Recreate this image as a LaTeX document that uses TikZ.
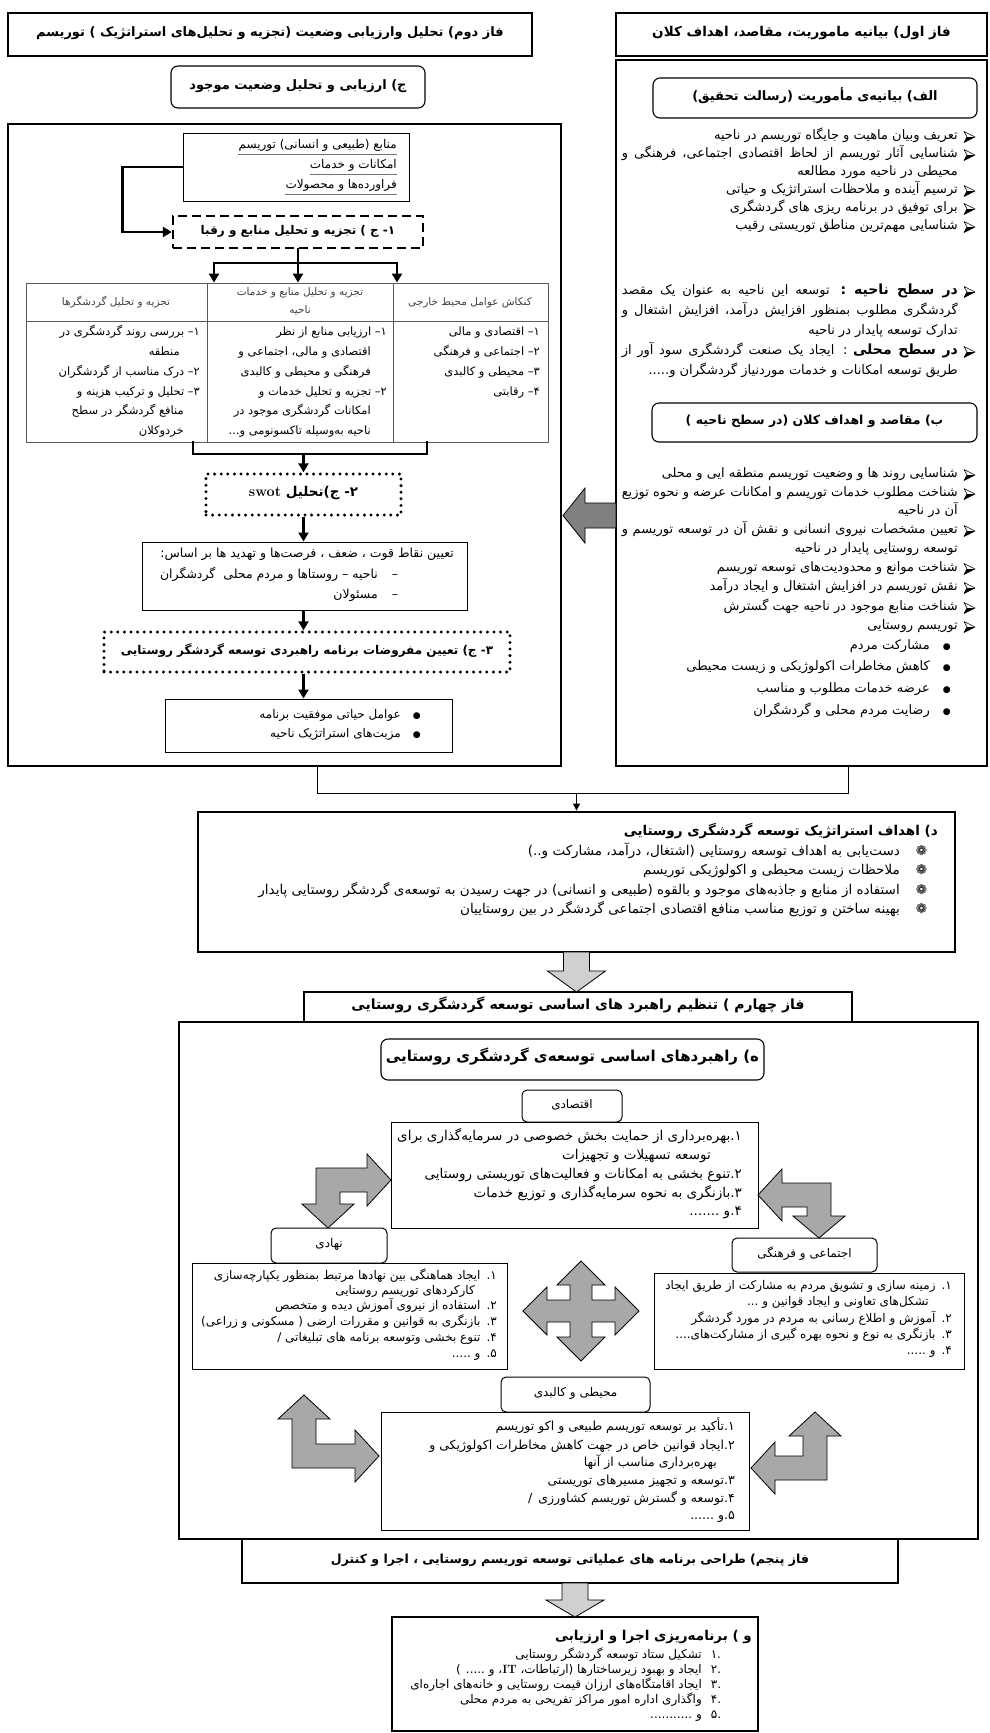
\documentclass[tikz,border=0pt]{standalone}
\usepackage{fontspec}
\usetikzlibrary{arrows.meta,fit,calc}
\TeXXeTstate=1
\newfontfamily\arabicfont[Script=Arabic]{DejaVu Sans}
\newfontfamily\symf{DejaVu Sans}
\newcommand\fa[1]{{\arabicfont\beginR #1\endR}}
\newcommand\fz[2]{\fontsize{#1}{#2}\selectfont}
\newcommand\arrb{\hspace*{19pt}}
\newcommand\jl[1]{\hbox to 355pt{\beginR #1\endR}}
\newcommand\tx[4][]{\node[txt,#1] (#2) at (#3) {\fa{#4}};}
\newcommand\arhd[1]{%
  \coordinate (tmp) at ([xshift=-2pt]#1.mid east);
  \filldraw[fill=white, line width=0.6pt, line join=round] (tmp) -- ++(-11,-5.5) -- ++(3,5.5) -- ++(-3,5.5) -- cycle;
  \fill (tmp) -- ++(-8,0) -- ++(-3,5.5) -- cycle;}
\definecolor{gdark}{HTML}{808080}
\definecolor{glight}{HTML}{D0D0D0}
\definecolor{gmid}{HTML}{A8A8A8}
\begin{document}
\begin{tikzpicture}[x=1pt,y=-1pt,
  thickbox/.style={draw, line width=2.8pt, inner sep=0pt},
  thinbox/.style={draw, line width=1pt, inner sep=0pt},
  rbox/.style={draw, line width=1.1pt, rounded corners=7pt, inner sep=0pt},
  lbl/.style={draw, line width=1pt, rounded corners=5pt, inner sep=0pt},
  dashbox/.style={draw, line width=2.4pt, dash pattern=on 9pt off 5pt, inner sep=0pt},
  dotbox/.style={draw, line width=3.3pt, dash pattern=on 0pt off 6.6pt, line cap=round, inner sep=0pt},
  tbl/.style={draw=black!65, line width=0.9pt, inner sep=0pt},
  txt/.style={inner sep=0pt, anchor=mid east, font=\fz{13}{15}},
  ctr/.style={inner sep=0pt, anchor=mid},
  conn/.style={line width=2.4pt, -{Triangle[length=9pt,width=10pt]}},
  tconn/.style={line width=1pt, -{Triangle[length=7pt,width=7pt]}},
  bline/.style={line width=2.4pt, line cap=rect},
  garrow/.style={draw=black, line width=0.8pt, line join=miter},
]
\useasboundingbox (0,0) rectangle (989,1733);

% ---------- headers ----------
\node[thickbox, fit={(8,13) (532,56)}] (h2) {};
\node[ctr, font=\fz{13}{15}] (h2t) at (h2.center) {\fa{\bfseries فاز دوم) تحلیل وارزیابی وضعیت (تجزیه و تحلیل‌های استراتژیک ) توریسم}};
\node[thickbox, fit={(616,13) (987,56)}] (h1) {};
\node[ctr, font=\fz{13.5}{15}] (h1t) at (h1.center) {\fa{\bfseries فاز اول) بیانیه ماموریت، مقاصد، اهداف کلان}};
\node[rbox, fit={(171,66) (425,108)}] (jb) {};
\node[ctr, font=\fz{13}{15}] (jbt) at (jb.center) {\fa{\bfseries ج) ارزیابی و تحلیل وضعیت موجود}};

% ---------- big boxes ----------
\node[thickbox, fit={(8,124) (561,766)}] (Lbig) {};
\node[thickbox, fit={(616,60) (987,766)}] (Rbig) {};

% ---------- right column ----------
\node[rbox, fit={(653,78) (977,118)}] (alef) {};
\node[ctr, font=\fz{13}{15}] (aleft) at (alef.center) {\fa{\bfseries الف) بیانیه‌ی مأموریت (رسالت  تحقیق)}};
\tx{r1}{977,137}{\arrb تعریف وبیان ماهیت و جایگاه توریسم در ناحیه}
\tx{r2}{977,155}{\jl{\arrb شناسایی آثار توریسم از لحاظ اقتصادی اجتماعی، فرهنگی و}}
\tx{r3}{977,173}{\arrb محیطی در ناحیه مورد مطالعه}
\tx{r4}{977,191}{\arrb ترسیم آینده و ملاحظات استراتژیک و حیاتی}
\tx{r5}{977,209}{\arrb برای توفیق در برنامه ریزی های گردشگری}
\tx{r6}{977,227}{\arrb شناسایی مهم‌ترین مناطق توریستی رقیب}
\tx{r7}{977,292}{\jl{\arrb {\fz{14}{16}\bfseries در سطح ناحیه :} توسعه این ناحیه به عنوان یک مقصد}}
\tx{r8}{977,312}{\jl{\arrb گردشگری مطلوب بمنظور افزایش درآمد، افزایش اشتغال و}}
\tx{r9}{977,332}{\arrb تدارک توسعه پایدار در ناحیه}
\tx{r10}{977,352}{\jl{\arrb {\fz{14}{16}\bfseries در سطح محلی} : ایجاد یک صنعت گردشگری سود آور از}}
\tx{r11}{977,372}{\arrb طریق توسعه امکانات و خدمات موردنیاز گردشگران و.....}
\node[rbox, fit={(652,403) (977,442)}] (beh) {};
\node[ctr, font=\fz{12.5}{15}] (beht) at (beh.center) {\fa{\bfseries ب) مقاصد و اهداف کلان (در سطح ناحیه )}};
\tx{q1}{977,475}{\arrb شناسایی روند ها و وضعیت توریسم منطقه ایی و محلی}
\tx{q2}{977,494}{\jl{\arrb شناخت مطلوب خدمات توریسم و امکانات عرضه و نحوه توزیع}}
\tx{q3}{977,512}{\arrb آن در ناحیه}
\tx{q4}{977,531}{\jl{\arrb تعیین مشخصات نیروی انسانی و نقش آن در توسعه توریسم و}}
\tx{q5}{977,550}{\arrb توسعه روستایی پایدار در ناحیه}
\tx{q6}{977,569}{\arrb شناخت موانع و محدودیت‌های توسعه توریسم}
\tx{q7}{977,588}{\arrb نقش توریسم در افزایش اشتغال و ایجاد درآمد}
\tx{q8}{977,608}{\arrb شناخت منابع موجود در ناحیه جهت گسترش}
\tx{q9}{977,627}{\arrb توریسم روستایی}
\foreach \n in {r1,r2,r4,r5,r6,r7,r10,q1,q2,q4,q6,q7,q8,q9} {\arhd{\n}}
\tx{s1}{964,647}{\makebox[34pt][c]{\fz{9}{9}●}مشارکت مردم}
\tx{s2}{964,668}{\makebox[34pt][c]{\fz{9}{9}●}کاهش مخاطرات اکولوژیکی و زیست محیطی}
\tx{s3}{964,690}{\makebox[34pt][c]{\fz{9}{9}●}عرضه خدمات مطلوب و مناسب}
\tx{s4}{964,712}{\makebox[34pt][c]{\fz{9}{9}●}رضایت مردم محلی و گردشگران}

% ---------- left column ----------
\node[thinbox, fit={(183,133) (409,201)}] (res) {};
\tx[font=\fz{12}{14}]{u1}{397,146}{منابع (طبیعی و انسانی) توریسم}
\tx[font=\fz{12}{14}]{u2}{397,166}{امکانات و خدمات}
\tx[font=\fz{12}{14}]{u3}{397,186}{فراورده‌ها و محصولات}
\foreach \n in {u1,u2,u3} \draw[black!55, line width=0.7pt] ([yshift=-6pt]\n.base west) -- ([yshift=-6pt]\n.base east);
\node[dashbox, fit={(173,216) (423,248)}] (dsh) {};
\node[ctr, font=\fz{12}{14}] (dsht) at (dsh.center) {\fa{\bfseries ۱- ج ) تجزیه و تحلیل منابع و رقبا}};

\node[tbl, fit={(26,283) (548,442)}] (tab) {};
\draw[black!65, line width=0.9pt] (26,321) -- (548,321) (207,283) -- (207,442) (393,283) -- (393,442);
\node[ctr, font=\fz{10.5}{12}, text=black!75] (th1) at (470,303) {\fa{کنکاش عوامل محیط خارجی}};
\node[ctr, font=\fz{10.5}{12}, text=black!75] (th2) at (300,293) {\fa{تجزیه و تحلیل منابع و خدمات}};
\node[ctr, font=\fz{10.5}{12}, text=black!75] (th2b) at (300,311) {\fa{ناحیه}};
\node[ctr, font=\fz{10.5}{12}, text=black!75] (th3) at (116,303) {\fa{تجزیه و تحلیل گردشگرها}};
\tx[font=\fz{11.5}{13}]{ta1}{540,333}{۱– اقتصادی و مالی}
\tx[font=\fz{11.5}{13}]{ta2}{540,353}{۲– اجتماعی و فرهنگی}
\tx[font=\fz{11.5}{13}]{ta3}{540,373}{۳– محیطی و کالبدی}
\tx[font=\fz{11.5}{13}]{ta4}{540,393}{۴– رقابتی}
\tx[font=\fz{11.5}{13}]{tb1}{387,333}{۱– ارزیابی منابع از نظر}
\tx[font=\fz{11.5}{13}]{tb2}{371,353}{اقتصادی و مالی، اجتماعی و}
\tx[font=\fz{11.5}{13}]{tb3}{371,373}{فرهنگی و محیطی و کالبدی}
\tx[font=\fz{11.5}{13}]{tb4}{387,393}{۲– تجزیه و تحلیل خدمات و}
\tx[font=\fz{11.5}{13}]{tb5}{371,412}{امکانات گردشگری موجود در}
\tx[font=\fz{11.5}{13}]{tb6}{371,432}{ناحیه به‌وسیله تاکسونومی و...}
\tx[font=\fz{11.5}{13}]{tc1}{200,333}{۱– بررسی روند گردشگری در}
\tx[font=\fz{11.5}{13}]{tc2}{180,353}{منطقه}
\tx[font=\fz{11.5}{13}]{tc3}{200,373}{۲– درک مناسب از گردشگران}
\tx[font=\fz{11.5}{13}]{tc4}{200,393}{۳– تحلیل و ترکیب هزینه و}
\tx[font=\fz{11.5}{13}]{tc5}{184,412}{منافع گردشگر در سطح}
\tx[font=\fz{11.5}{13}]{tc6}{184,432}{خردوکلان}

\node[dotbox, fit={(206,474) (401,515)}] (swot) {};
\node[ctr, font=\fz{13.5}{15}] (swott) at (swot.center) {\fa{\bfseries ۲- ج)تحلیل {\normalfont\bfseries\fz{14.5}{16}swot}}};
\node[thinbox, fit={(142,542) (467,610)}] (res2) {};
\tx[font=\fz{12.5}{14}]{w1}{454,555}{تعیین نقاط قوت ، ضعف ، فرصت‌ها و تهدید ها بر اساس:}
\tx[font=\fz{12.5}{14}]{w2}{402,576}{\makebox[10pt][r]{–}\hspace{14pt}ناحیه – روستاها و مردم محلی\hspace{8pt}گردشگران}
\tx[font=\fz{12.5}{14}]{w3}{402,596}{\makebox[10pt][r]{–}\hspace{14pt}مسئولان}
\node[dotbox, fit={(104,632) (510,672)}] (dot3) {};
\node[ctr, font=\fz{12}{14}] (dot3t) at (dot3.center) {\fa{\bfseries ۳- ج) تعیین مفروضات برنامه راهبردی توسعه گردشگر روستایی}};
\node[thinbox, fit={(165,699) (452,752)}] (fin) {};
\tx[font=\fz{12}{14}]{f1}{425,716}{\makebox[12pt][r]{\fz{9}{9}●}\hspace{12pt}عوامل حیاتی موفقیت برنامه}
\tx[font=\fz{12}{14}]{f2}{425,735}{\makebox[12pt][r]{\fz{9}{9}●}\hspace{12pt}مزیت‌های استراتژیک ناحیه}

% ---------- strategic goals box ----------
\node[thickbox, fit={(198,812) (955,952)}] (dbox) {};
\tx[font=\fz{13.5}{15}]{d0}{938,833}{\bfseries د) اهداف استراتژیک توسعه گردشگری روستایی}
\tx[font=\fz{13.5}{15}]{d1}{936,853}{\makebox[20pt][r]{\symf ❁}\hspace{16pt}دست‌یابی به اهداف توسعه روستایی (اشتغال، درآمد، مشارکت و..)}
\tx[font=\fz{13.5}{15}]{d2}{936,872}{\makebox[20pt][r]{\symf ❁}\hspace{16pt}ملاحظات زیست محیطی و اکولوژیکی توریسم}
\tx[font=\fz{13.5}{15}]{d3}{936,892}{\makebox[20pt][r]{\symf ❁}\hspace{16pt}استفاده از منابع و جاذبه‌های موجود و بالقوه (طبیعی و انسانی) در جهت رسیدن به توسعه‌ی گردشگر روستایی پایدار}
\tx[font=\fz{13.5}{15}]{d4}{936,911}{\makebox[20pt][r]{\symf ❁}\hspace{16pt}بهینه ساختن و توزیع مناسب منافع اقتصادی اجتماعی گردشگر در بین روستاییان}

% ---------- phase 4 ----------
\node[thickbox, fit={(179,1022) (978,1539)}] (p4big) {};
\node[thickbox, fit={(304,992) (852,1022)}] (p4) {};
\node[ctr, font=\fz{14}{16}] (p4t) at (p4.center) {\fa{\bfseries فاز چهارم ) تنظیم راهبرد های اساسی توسعه گردشگری روستایی}};
\node[rbox, fit={(381,1039) (764,1080)}] (heh) {};
\node[ctr, font=\fz{15}{17}] (heht) at (heh.center) {\fa{\bfseries ه) راهبردهای اساسی توسعه‌ی گردشگری روستایی}};

\node[lbl, fit={(522,1090) (622,1122)}] (eco) {};
\node[ctr, font=\fz{12}{14}] (ecot) at (eco.center) {\fa{اقتصادی}};
\node[thinbox, fit={(391,1122) (758,1228)}] (ecob) {};
\tx[font=\fz{13.5}{15}]{e1}{742,1138}{۱.بهره‌برداری از حمایت بخش خصوصی در سرمایه‌گذاری برای}
\tx[font=\fz{13.5}{15}]{e2}{711,1157}{توسعه تسهیلات و تجهیزات}
\tx[font=\fz{13.5}{15}]{e3}{742,1176}{۲.تنوع بخشی به امکانات و فعالیت‌های توریستی روستایی}
\tx[font=\fz{13.5}{15}]{e4}{742,1195}{۳.بازنگری به نحوه سرمایه‌گذاری و توزیع خدمات}
\tx[font=\fz{13.5}{15}]{e5}{742,1213}{۴.و .......}

\node[lbl, fit={(271,1228) (387,1263)}] (nah) {};
\node[ctr, font=\fz{12}{14}] (naht) at (nah.center) {\fa{نهادی}};
\node[thinbox, fit={(192,1263) (507,1369)}] (nahb) {};
\tx[font=\fz{12}{14}]{n1}{497,1277}{۱.\hspace{6pt}ایجاد هماهنگی بین نهادها مرتبط بمنظور یکپارچه‌سازی}
\tx[font=\fz{12}{14}]{n2}{475,1292}{کارکردهای توریسم روستایی}
\tx[font=\fz{12}{14}]{n3}{497,1307}{۲.\hspace{6pt}استفاده از نیروی آموزش دیده و متخصص}
\tx[font=\fz{12}{14}]{n4}{497,1323}{۳.\hspace{6pt}بازنگری به قوانین و مقررات ارضی ( مسکونی و زراعی)}
\tx[font=\fz{12}{14}]{n5}{497,1339}{۴.\hspace{6pt}تنوع بخشی وتوسعه برنامه های تبلیغاتی /}
\tx[font=\fz{12}{14}]{n6}{497,1355}{۵.\hspace{6pt}و .....}

\node[lbl, fit={(732,1238) (877,1272)}] (soc) {};
\node[ctr, font=\fz{12}{14}] (soct) at (soc.center) {\fa{اجتماعی و فرهنگی}};
\node[thinbox, fit={(654,1273) (964,1369)}] (socb) {};
\tx[font=\fz{12}{14}]{c1}{952,1287}{۱.\hspace{6pt}زمینه سازی و تشویق مردم به مشارکت از طریق ایجاد}
\tx[font=\fz{12}{14}]{c2}{929,1303}{تشکل‌های تعاونی و ایجاد قوانین و ...}
\tx[font=\fz{12}{14}]{c3}{952,1320}{۲.\hspace{6pt}آموزش و اطلاع رسانی به مردم در مورد گردشگر}
\tx[font=\fz{12}{14}]{c4}{952,1336}{۳.\hspace{6pt}بازنگری به نوع و نحوه بهره گیری از مشارکت‌های....}
\tx[font=\fz{12}{14}]{c5}{952,1352}{۴.\hspace{6pt}و .....}

\node[lbl, fit={(501,1377) (650,1412)}] (env) {};
\node[ctr, font=\fz{12}{14}] (envt) at (env.center) {\fa{محیطی و کالبدی}};
\node[thinbox, fit={(381,1412) (749,1530)}] (envb) {};
\tx[font=\fz{12.5}{14}]{v1}{735,1428}{۱.تأکید بر توسعه توریسم طبیعی و اکو توریسم}
\tx[font=\fz{12.5}{14}]{v2}{735,1447}{۲.ایجاد قوانین خاص در جهت کاهش مخاطرات اکولوژیکی و}
\tx[font=\fz{12.5}{14}]{v3}{717,1464}{بهره‌برداری مناسب از آنها}
\tx[font=\fz{12.5}{14}]{v4}{735,1482}{۳.توسعه و تجهیز مسیرهای توریستی}
\tx[font=\fz{12.5}{14}]{v5}{735,1500}{۴.توسعه و گسترش توریسم کشاورزی\hspace{6pt}/}
\tx[font=\fz{12.5}{14}]{v6}{735,1517}{۵.و ......}

% ---------- phase 5 and last box ----------
\node[thickbox, fit={(242,1539) (898,1583)}] (p5) {};
\node[ctr, font=\fz{12.5}{15}] (p5t) at (p5.center) {\fa{\bfseries فاز پنجم) طراحی برنامه های عملیاتی توسعه توریسم روستایی ، اجرا و کنترل}};
\node[thickbox, fit={(392,1617) (758,1731)}] (wbox) {};
\tx[font=\fz{13.5}{15}]{z0}{752,1638}{\bfseries و ) برنامه‌ریزی  اجرا و ارزیابی}
\tx[font=\fz{12}{13}]{z1}{721,1656}{\makebox[10pt][r]{.۱}\hspace{9pt}تشکیل ستاد توسعه گردشگر روستایی}
\tx[font=\fz{12}{13}]{z2}{721,1671}{\makebox[10pt][r]{.۲}\hspace{9pt}ایجاد و بهبود زیرساختارها (ارتباطات، {\normalfont\bfseries IT}، و ..... )}
\tx[font=\fz{12}{13}]{z3}{721,1686}{\makebox[10pt][r]{.۳}\hspace{9pt}ایجاد اقامتگاه‌های ارزان قیمت روستایی و خانه‌های اجاره‌ای}
\tx[font=\fz{12}{13}]{z4}{721,1701}{\makebox[10pt][r]{.۴}\hspace{9pt}واگذاری اداره امور مراکز تفریحی به مردم محلی}
\tx[font=\fz{12}{13}]{z5}{721,1716}{\makebox[10pt][r]{.۵}\hspace{9pt}و ...........}

% ---------- connectors ----------
\draw[conn] (res.west) -- ++(-60,0) |- (dsh.west);
\coordinate (spl) at (214,263);
\coordinate (spr) at (397,263);
\draw[bline] (dsh.south) -- (dsh.south |- spl);
\draw[bline] (spl) -- (spr);
\draw[conn] (spl) -- (spl |- tab.north);
\draw[conn] (dsh.south |- spl) -- (dsh.south |- tab.north);
\draw[conn] (spr) -- (spr |- tab.north);
\coordinate (ml) at (193,454);
\coordinate (mr) at (427,454);
\draw[bline] (ml |- tab.south) -- (ml) -- (mr) -- (mr |- tab.south);
\draw[conn] (swot.north |- ml) -- (swot.north);
\draw[conn] (swot.south) -- (swot.south |- res2.north);
\draw[conn] (swot.south |- res2.south) -- (swot.south |- dot3.north);
\draw[conn] (swot.south |- dot3.south) -- (swot.south |- fin.north);
\coordinate (jl) at (317,793);
\coordinate (jr) at (848,793);
\draw[line width=1pt] (jl |- Lbig.south) -- (jl) -- (jr) -- (jr |- Rbig.south);
\draw[tconn] (dbox.north |- jl) -- (dbox.north);

% ---------- grey block arrows ----------
\filldraw[garrow, fill=gdark] (616,503) -- (585,503) -- (585,488) -- (563,515.5) -- (585,543) -- (585,528) -- (616,528) -- cycle;
\filldraw[garrow, fill=glight] (563.5,952) -- (563.5,971) -- (547.5,971) -- (576.5,992) -- (605.5,971) -- (589.5,971) -- (589.5,952) -- cycle;
\filldraw[garrow, fill=glight] (562,1583) -- (562,1600) -- (546,1600) -- (575,1617) -- (604,1600) -- (588,1600) -- (588,1583) -- cycle;
\filldraw[garrow, fill=gmid] (391,1180) -- (367,1206) -- (367,1192) -- (340,1192) -- (340,1204) -- (354,1204) -- (328,1228) -- (302,1204) -- (316,1204) -- (316,1168) -- (367,1168) -- (367,1154) -- cycle;
\filldraw[garrow, fill=gmid] (758,1195) -- (782,1169) -- (782,1183) -- (831,1183) -- (831,1216) -- (845,1216) -- (819,1238) -- (793,1216) -- (807,1216) -- (807,1207) -- (782,1207) -- (782,1221) -- cycle;
\filldraw[garrow, fill=gmid] (304,1395) -- (330,1419) -- (316,1419) -- (316,1444) -- (355,1444) -- (355,1430) -- (379,1456) -- (355,1482) -- (355,1468) -- (292,1468) -- (292,1419) -- (278,1419) -- cycle;
\filldraw[garrow, fill=gmid] (815,1412) -- (841,1436) -- (827,1436) -- (827,1480) -- (775,1480) -- (775,1494) -- (751,1468) -- (775,1442) -- (775,1456) -- (803,1456) -- (803,1436) -- (789,1436) -- cycle;
\filldraw[garrow, fill=gmid] (581,1261) -- (605,1285) -- (592,1285) -- (592,1300) -- (615,1300) -- (615,1287) -- (639,1311) -- (615,1335) -- (615,1322) -- (592,1322) -- (592,1337) -- (605,1337) -- (581,1361) -- (557,1337) -- (570,1337) -- (570,1322) -- (547,1322) -- (547,1335) -- (523,1311) -- (547,1287) -- (547,1300) -- (570,1300) -- (570,1285) -- (557,1285) -- cycle;
\end{tikzpicture}
\end{document}
